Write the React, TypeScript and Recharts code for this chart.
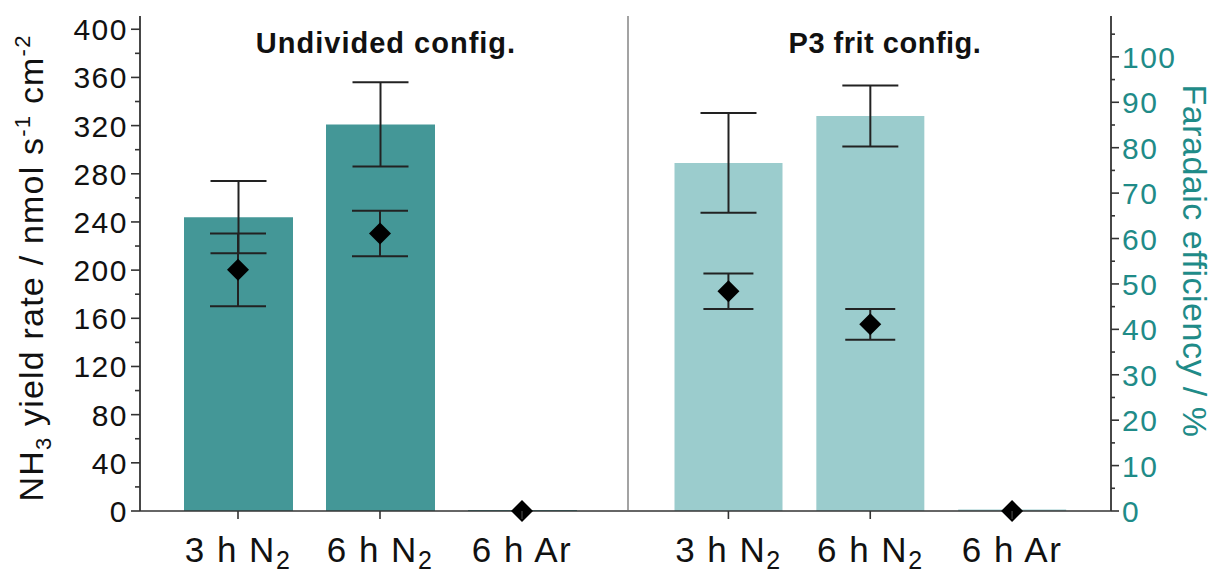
import React from 'react';
import { ComposedChart, Bar, Scatter, XAxis, YAxis, ErrorBar } from 'recharts';

// categories (subscript part kept separately so the "2" can be lowered)
const categories = ['3 h N2', '6 h N2', '6 h Ar'];
const tickMain = ['3 h N', '6 h N', '6 h Ar'];
const tickSub = ['2', '2', ''];

// undivided configuration
const undividedYield = [244, 321, 0.8];
const undividedYieldErr = [30, 35, 0];
const undividedFE = [53.1, 61.1, 0];
const undividedFEErr = [8, 5, 0];

// P3 frit configuration
const fritYield = [289, 328, 1.2];
const fritYieldErr = [41.4, 25.3, 0];
const fritFE = [48.4, 41.1, 0];
const fritFEErr = [3.9, 3.4, 0];

const yieldTicks = [0, 20, 40, 60, 80, 100, 120, 140, 160, 180, 200, 220, 240, 260, 280, 300, 320, 340, 360, 380, 400];
const feTicks = [0, 5, 10, 15, 20, 25, 30, 35, 40, 45, 50, 55, 60, 65, 70, 75, 80, 85, 90, 95, 100, 105];

const FONT = '"Liberation Sans", Arial, Helvetica, sans-serif';
const AXIS = '#333';
const TEAL_DARK = '#449797';
const TEAL_LIGHT = '#9bcccd';
const TEAL_TEXT = '#1f8b88';

const buildRows = (y: number[], yErr: number[], fe: number[], feErr: number[]) =>
  categories.map((cat, i) => ({ cat, idx: i, yield: y[i], yieldErr: yErr[i], fe: fe[i], feErr: feErr[i] }));

const leftRows = buildRows(undividedYield, undividedYieldErr, undividedFE, undividedFEErr);
const rightRows = buildRows(fritYield, fritYieldErr, fritFE, fritFEErr);

const LeftTick = ({ x, y, payload }: any) => {
  const v = payload.value;
  const major = v % 40 === 0;
  return (
    <g>
      <line x1={x - (major ? 9 : 5)} x2={x} y1={y} y2={y} stroke={AXIS} strokeWidth={1.6} />
      {major && (
        <text x={x - 12} y={y + 11} textAnchor="end" fontSize={30} fontFamily={FONT} fill="#111" letterSpacing={1.5}>
          {v}
        </text>
      )}
    </g>
  );
};

const RightTick = ({ x, y, payload }: any) => {
  const v = payload.value;
  const major = v % 10 === 0;
  return (
    <g>
      <line x1={x} x2={x + (major ? 8 : 4)} y1={y} y2={y} stroke={AXIS} strokeWidth={1.6} />
      {major && (
        <text x={x + 11} y={y + 11} textAnchor="start" fontSize={30} fontFamily={FONT} fill={TEAL_TEXT} letterSpacing={1.5}>
          {v}
        </text>
      )}
    </g>
  );
};

const XTick = ({ x, y, payload, index }: any) => {
  const i = typeof index === 'number' ? index : categories.indexOf(payload.value);
  return (
    <g>
      <line x1={x} x2={x} y1={y} y2={y + 8} stroke={AXIS} strokeWidth={1.6} />
      <text x={x} y={y + 51} textAnchor="middle" fontSize={35} fontFamily={FONT} fill="#111" letterSpacing={1.5}>
        {tickMain[i]}
        {tickSub[i] && (
          <tspan dy={7} fontSize={25}>
            {tickSub[i]}
          </tspan>
        )}
      </text>
    </g>
  );
};

const Diamond = ({ cx, cy }: any) => (
  <polygon points={`${cx},${cy - 11} ${cx + 11},${cy} ${cx},${cy + 11} ${cx - 11},${cy}`} fill="#000" />
);

export default function App() {
  return (
    <div style={{ position: 'absolute', left: 0, top: 0, width: 1214, height: 573, background: '#fff' }}>
      <div style={{ position: 'absolute', left: 0, top: 0 }}>
        <ComposedChart width={630} height={573} data={leftRows} margin={{ top: 16, right: 2, bottom: 0, left: 0 }}>
          <XAxis
            dataKey="cat"
            height={62}
            padding={{ left: 27, right: 35 }}
            interval={0}
            tickSize={0}
            tickMargin={0}
            tickLine={false}
            tick={<XTick />}
            axisLine={{ stroke: AXIS, strokeWidth: 1.6 }}
          />
          <XAxis
            xAxisId="top"
            orientation="top"
            dataKey="cat"
            height={0}
            padding={{ left: 27, right: 35 }}
            tick={false}
            tickLine={false}
            axisLine={{ stroke: AXIS, strokeWidth: 1.4 }}
          />
          <YAxis
            yAxisId="y"
            domain={[0, 411]}
            ticks={yieldTicks}
            interval={0}
            width={140}
            tickSize={0}
            tickMargin={0}
            tickLine={false}
            tick={<LeftTick />}
            axisLine={{ stroke: AXIS, strokeWidth: 1.8 }}
          />
          <YAxis yAxisId="fe" orientation="right" hide domain={[0, 109]} />
          <Bar yAxisId="y" dataKey="yield" fill={TEAL_DARK} barSize={109} isAnimationActive={false}>
            <ErrorBar dataKey="yieldErr" direction="y" width={28} stroke="#222" strokeWidth={2} />
          </Bar>
          <Scatter yAxisId="fe" dataKey="fe" shape={<Diamond />} isAnimationActive={false}>
            <ErrorBar dataKey="feErr" direction="y" width={28} stroke="#222" strokeWidth={2} />
          </Scatter>
        </ComposedChart>
      </div>
      <div style={{ position: 'absolute', left: 618, top: 0 }}>
        <ComposedChart width={596} height={573} data={rightRows} margin={{ top: 16, right: 0, bottom: 0, left: 0 }}>
          <XAxis
            dataKey="cat"
            height={62}
            padding={{ left: 29.5, right: 28 }}
            interval={0}
            tickSize={0}
            tickMargin={0}
            tickLine={false}
            tick={<XTick />}
            axisLine={{ stroke: AXIS, strokeWidth: 1.6 }}
          />
          <XAxis
            xAxisId="top"
            orientation="top"
            dataKey="cat"
            height={0}
            padding={{ left: 29.5, right: 28 }}
            tick={false}
            tickLine={false}
            axisLine={{ stroke: AXIS, strokeWidth: 1.4 }}
          />
          <YAxis
            yAxisId="y"
            domain={[0, 411]}
            width={10}
            tick={false}
            tickLine={false}
            axisLine={{ stroke: '#666', strokeWidth: 1.2 }}
          />
          <YAxis
            yAxisId="fe"
            orientation="right"
            domain={[0, 109]}
            ticks={feTicks}
            interval={0}
            width={103}
            tickSize={0}
            tickMargin={0}
            tickLine={false}
            tick={<RightTick />}
            axisLine={{ stroke: AXIS, strokeWidth: 1.8 }}
          />
          <Bar yAxisId="y" dataKey="yield" fill={TEAL_LIGHT} barSize={108} isAnimationActive={false}>
            <ErrorBar dataKey="yieldErr" direction="y" width={28} stroke="#222" strokeWidth={2} />
          </Bar>
          <Scatter yAxisId="fe" dataKey="fe" shape={<Diamond />} isAnimationActive={false}>
            <ErrorBar dataKey="feErr" direction="y" width={25} stroke="#222" strokeWidth={2} />
          </Scatter>
        </ComposedChart>
      </div>
      <svg
        width={1214}
        height={573}
        style={{ position: 'absolute', left: 0, top: 0, pointerEvents: 'none' }}
        fontFamily={FONT}
      >
        <text x={386} y={53} textAnchor="middle" fontSize={29} fontWeight="bold" fill="#111" letterSpacing={1}>
          Undivided config.
        </text>
        <text x={885} y={53} textAnchor="middle" fontSize={29} fontWeight="bold" fill="#111" letterSpacing={0.5}>
          P3 frit config.
        </text>
        <text
          transform="translate(43,268) rotate(-90)"
          textAnchor="middle"
          fontSize={34}
          fill="#111"
          letterSpacing={1.2}
        >
          NH
          <tspan dy={8} fontSize={22}>3</tspan>
          <tspan dy={-8}> yield rate / nmol s</tspan>
          <tspan dy={-13} fontSize={22}>-1</tspan>
          <tspan dy={13}> cm</tspan>
          <tspan dy={-13} fontSize={22}>-2</tspan>
        </text>
        <text
          transform="translate(1183,261) rotate(90)"
          textAnchor="middle"
          fontSize={34}
          fill={TEAL_TEXT}
          letterSpacing={0.5}
        >
          Faradaic efficiency / %
        </text>
      </svg>
    </div>
  );
}
